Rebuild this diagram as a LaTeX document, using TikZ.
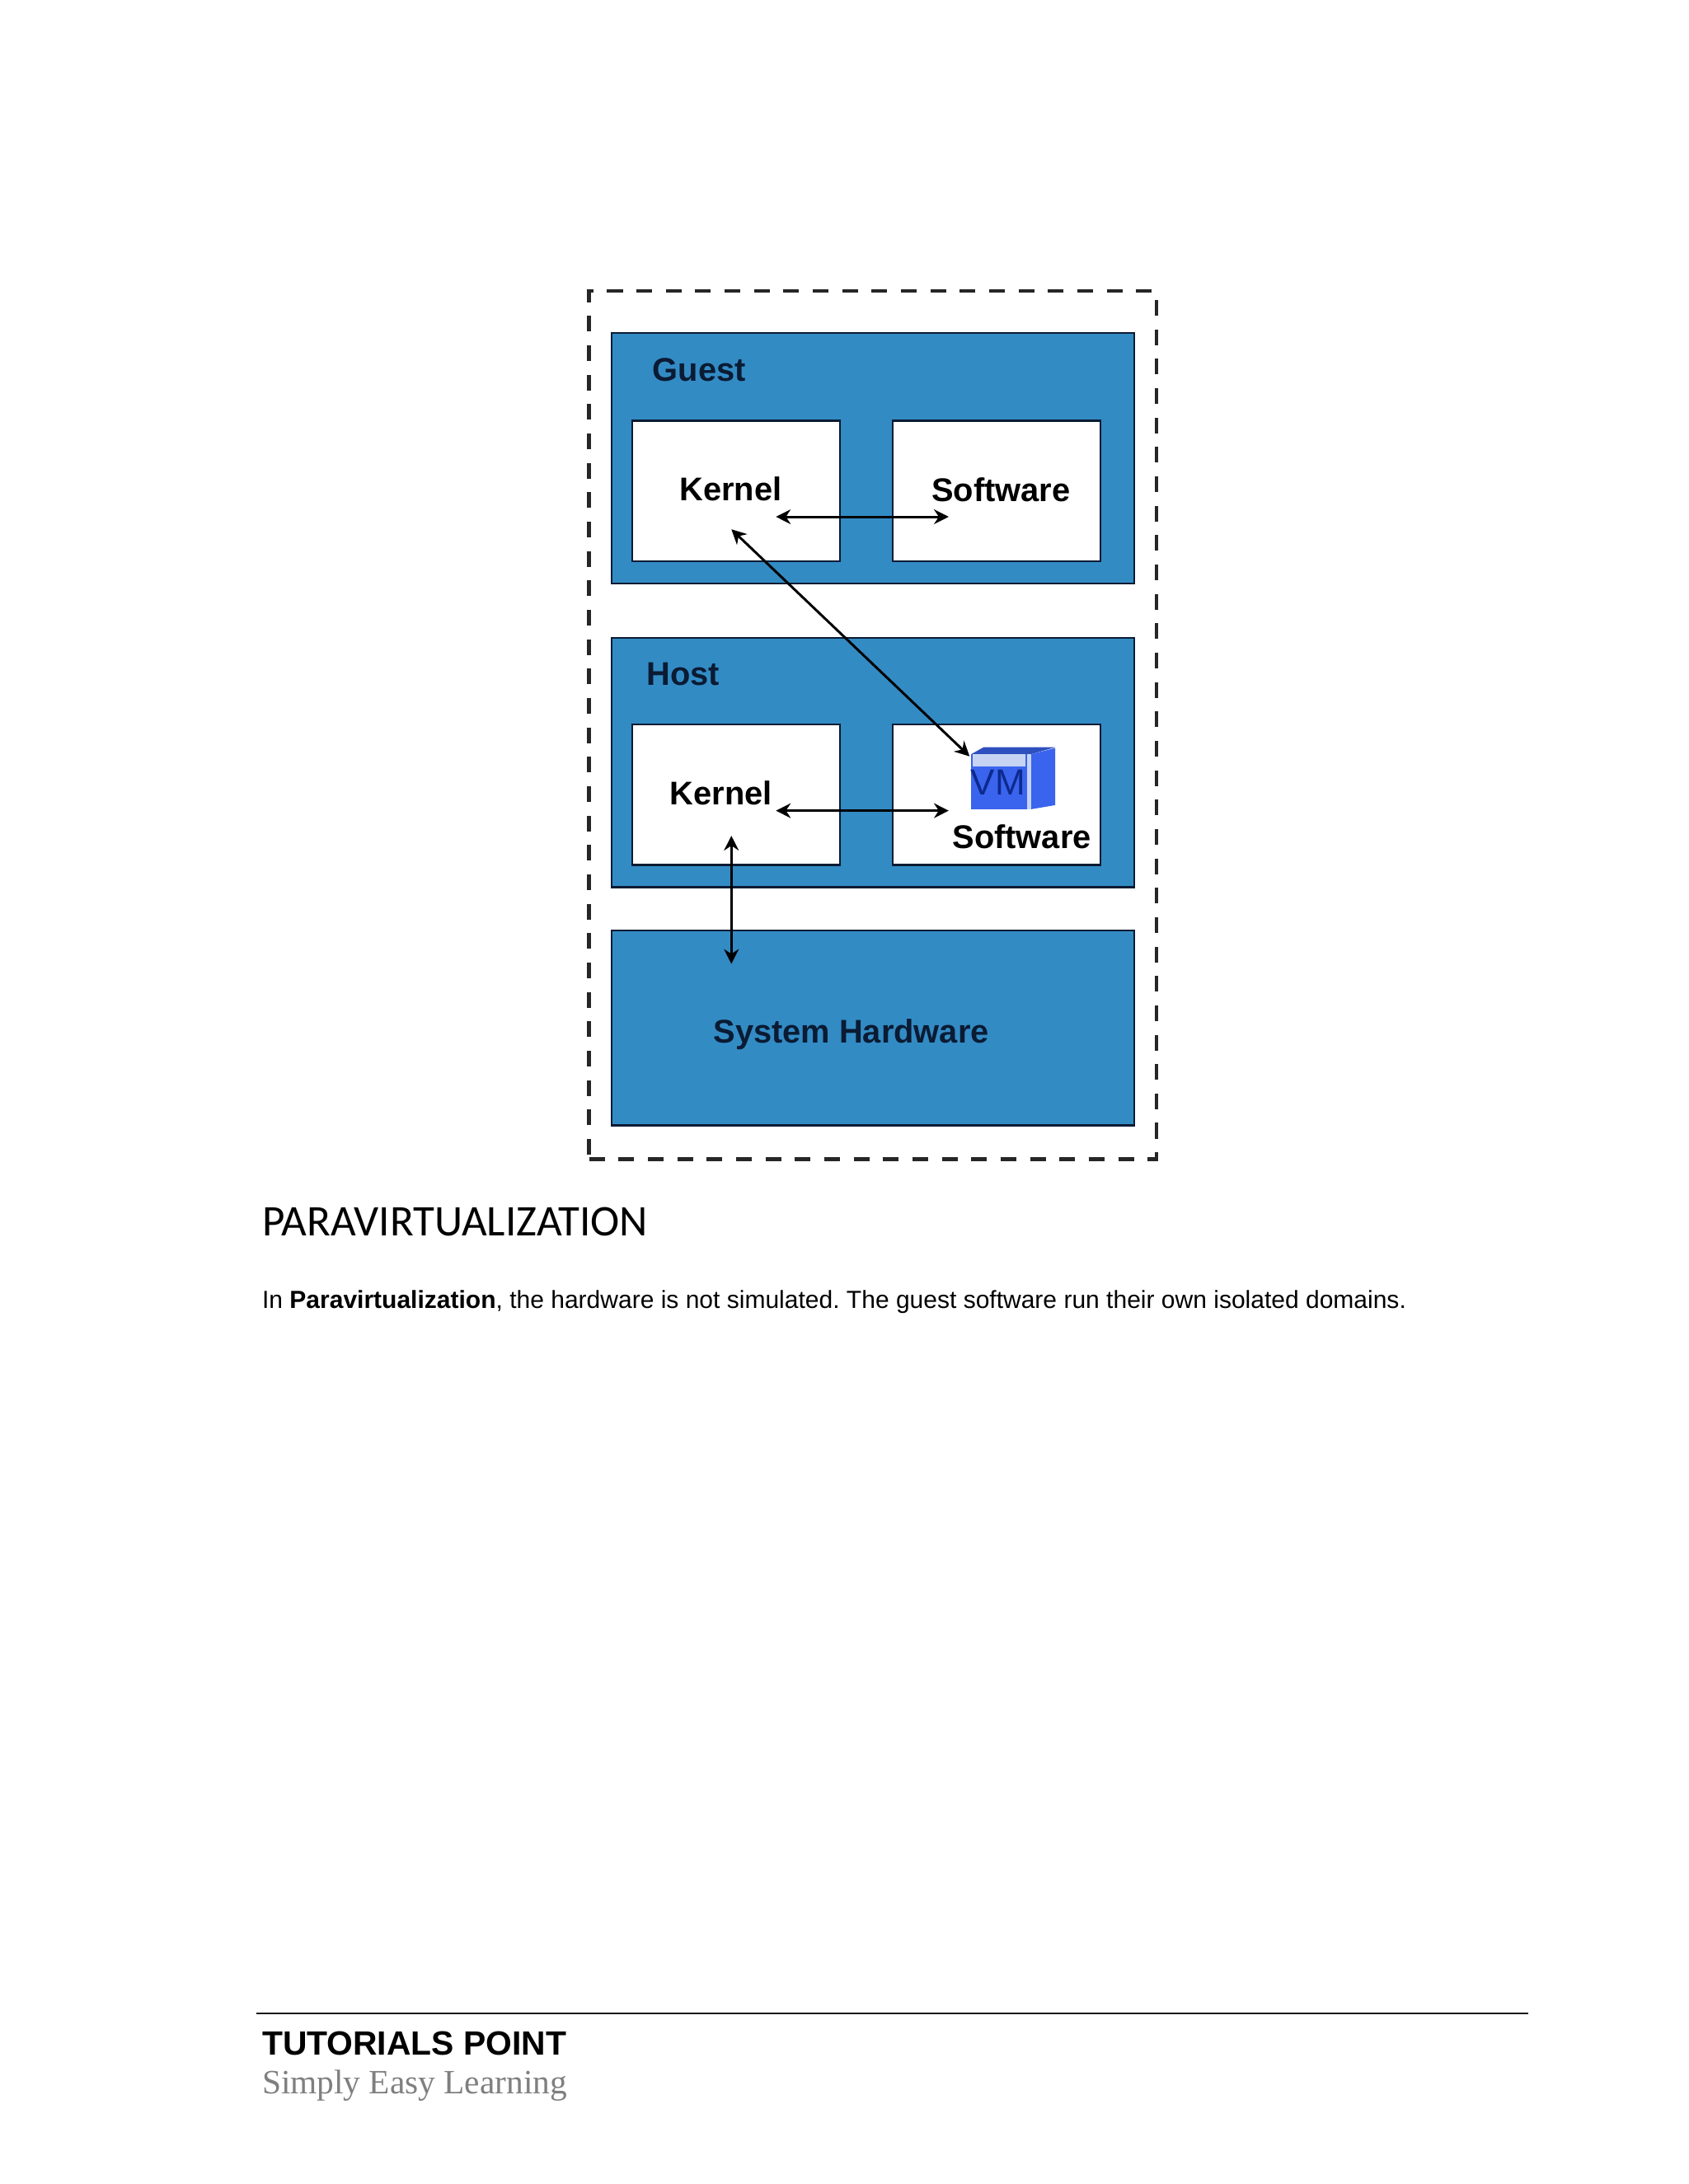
\documentclass[tikz,border=0pt]{standalone}
\usepackage{fontspec}
\setmainfont{Liberation Sans}
\newfontfamily\headfont{Carlito}
\newfontfamily\tagfont{Liberation Serif}
\usetikzlibrary{arrows.meta}
\definecolor{LayerBlue}{HTML}{338BC4}
\definecolor{LayerInk}{HTML}{0A1B33}
\definecolor{CubeBlue}{HTML}{3A63EE}
\definecolor{CubeLight}{HTML}{C6D3F2}
\definecolor{CubeInk}{HTML}{0C2A8C}
\definecolor{TagGrey}{HTML}{7F7F7F}
\tikzset{
  layerbox/.style={draw=LayerInk,line width=0.4pt,fill=LayerBlue,inner sep=0pt,minimum width=3.75cm},
  innerbox/.style={draw=LayerInk,line width=0.4pt,fill=white,inner sep=0pt,minimum width=1.49cm},
  boxlabel/.style={font=\fontsize{6.7}{8}\selectfont\bfseries,inner sep=0pt},
  link/.style={<->,line width=0.5pt,black}
}
\frenchspacing
\begin{document}
\begin{tikzpicture}[>={Stealth[length=3pt,width=3pt]},x=0.01cm,y=-0.01cm]
  \useasboundingbox (0,0) rectangle (1212,1568);
  \node[draw=black!85,line width=0.75pt,dash pattern=on 3.2pt off 2.8pt,inner sep=0pt,minimum width=4.07cm,minimum height=6.23cm] (frame) at (626.5,520.5) {};
  % the three layers
  \node[layerbox,minimum height=1.80cm] (guest) at (626.5,329) {};
  \node[layerbox,minimum height=1.79cm] (host) at (626.5,547.5) {};
  \node[layerbox,minimum height=1.40cm] (hardware) at (626.5,738) {};
  \node[innerbox,minimum height=1.01cm] (guestKernel) at (528.5,352.5) {};
  \node[innerbox,minimum height=1.01cm] (guestSoftware) at (715.5,352.5) {};
  \node[innerbox,minimum height=1.01cm] (hostKernel) at (528.5,570.5) {};
  \node[innerbox,minimum height=1.01cm] (hostSoftware) at (715.5,570.5) {};
  \node[boxlabel,text=LayerInk] (guestLabel) at (502,265.5) {Guest};
  \node[boxlabel,text=LayerInk] (hostLabel) at (490.5,484) {Host};
  \node[boxlabel] (guestKernelLabel) at (524.5,351) {Kernel};
  \node[boxlabel] (guestSoftwareLabel) at (718.5,351.5) {Software};
  \node[boxlabel] (hostKernelLabel) at (517.5,569.5) {Kernel};
  \node[boxlabel] (hostSoftwareLabel) at (733.5,600.5) {Software};
  \node[boxlabel,text=LayerInk] (hardwareLabel) at (611,742.5) {System Hardware};
  % vm cube
  \fill[CubeBlue] (697,541.5) rectangle (737,581);
  \fill[CubeBlue] (740,541.5) -- (757.5,537) -- (757.5,578) -- (740,581) -- cycle;
  \fill[CubeBlue!80!black] (697,541.5) -- (706,536.5) -- (757.5,536.5) -- (740,541.5) -- cycle;
  \fill[CubeLight] (698,541.5) rectangle (736,550);
  \fill[CubeLight] (737,541.5) rectangle (740,581);
  \node[inner sep=0pt,text=CubeInk,font=\fontsize{7.4}{9}\selectfont] (vmLabel) at (716.5,562) {VM};
  % arrow ends
  \coordinate (guestLeft) at (557,371);
  \coordinate (guestRight) at (681,371);
  \coordinate (guestDown) at (525,380);
  \coordinate (vmCorner) at (696,543);
  \coordinate (hostLeft) at (557,582);
  \coordinate (hostRight) at (681,582);
  \coordinate (hostDown) at (525,600);
  \coordinate (hardwareTop) at (525,692);
  \draw[link] (guestLeft) -- (guestRight);
  \draw[link] (guestDown) -- (vmCorner);
  \draw[link] (hostLeft) -- (hostRight);
  \draw[link] (hostDown) -- (hardwareTop);
  % page text
  \node[anchor=base west,inner sep=0pt,font=\headfont\fontsize{8.93}{11}\selectfont] (title) at (187.5,887) {PARAVIRTUALIZATION};
  \node[anchor=base west,inner sep=0pt,font=\fontsize{5.05}{7}\selectfont] (body) at (187.5,939.5) {In \textbf{Paravirtualization}, the hardware is not simulated. The guest software run their own isolated domains.};
  \coordinate (ruleLeft) at (184,1445.5);
  \coordinate (ruleRight) at (1097,1445.5);
  \draw[line width=0.5pt,black!90] (ruleLeft) -- (ruleRight);
  \node[anchor=base west,inner sep=0pt,font=\fontsize{6.87}{9}\selectfont\bfseries] (brand) at (187.5,1475.5) {TUTORIALS POINT};
  \node[anchor=base west,inner sep=0pt,text=TagGrey,font=\tagfont\fontsize{6.96}{9}\selectfont] (tagline) at (187.5,1503) {Simply Easy Learning};
\end{tikzpicture}
\end{document}
